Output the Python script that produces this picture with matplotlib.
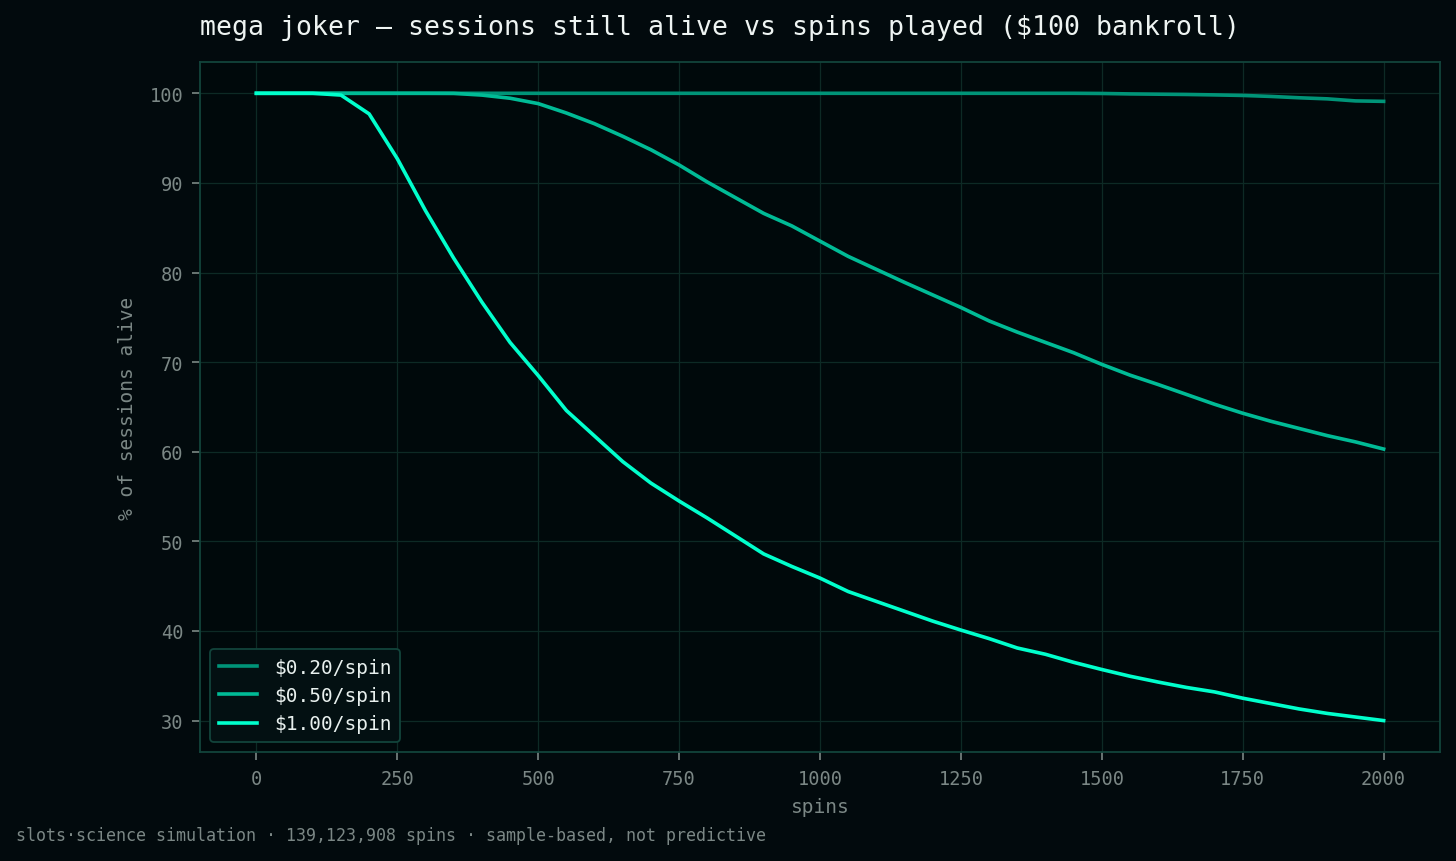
import matplotlib
matplotlib.use("Agg")
import matplotlib.pyplot as plt

spins = list(range(0, 2001, 50))

alive_020 = [100] * 30 + [99.98, 99.93, 99.9, 99.87, 99.82, 99.76, 99.65, 99.5, 99.38, 99.15, 99.1]

alive_050 = [100, 100, 100, 100, 100, 100, 100, 99.99, 99.8, 99.45, 98.85,
             97.8, 96.6, 95.2, 93.7, 92.0, 90.1, 88.35, 86.6, 85.2, 83.5,
             81.8, 80.35, 78.9, 77.5, 76.1, 74.6, 73.35, 72.2, 71.05, 69.75,
             68.55, 67.5, 66.4, 65.3, 64.3, 63.4, 62.6, 61.8, 61.1, 60.3]

alive_100 = [100, 100, 100, 99.8, 97.7, 92.7, 86.9, 81.6, 76.7, 72.2, 68.5,
             64.6, 61.75, 58.9, 56.5, 54.5, 52.6, 50.6, 48.6, 47.2, 45.9,
             44.4, 43.3, 42.2, 41.1, 40.1, 39.15, 38.1, 37.4, 36.5, 35.7,
             34.95, 34.3, 33.7, 33.2, 32.5, 31.9, 31.3, 30.8, 30.4, 30.0]

labels = ["$0.20/spin", "$0.50/spin", "$1.00/spin"]
colors = ["#009478", "#00bb96", "#00ffcc"]

BG = "#020a0d"
AX_BG = "#00090b"
GRID = "#0d2a25"
SPINE = "#12443b"
MUTED = "#7b8785"

plt.rcParams["font.family"] = ["DejaVu Sans Mono", "DejaVu Sans"]

fig = plt.figure(figsize=(14.56, 8.62), dpi=100, facecolor=BG)
ax = fig.add_axes([0.1374, 0.1265, 0.8516, 0.8005])
ax.set_facecolor(AX_BG)

for vals, lab, col in zip([alive_020, alive_050, alive_100], labels, colors):
    ax.plot(spins, vals, color=col, lw=2.6, label=lab)

ax.set_xticks([0, 250, 500, 750, 1000, 1250, 1500, 1750, 2000])
ax.set_yticks([30, 40, 50, 60, 70, 80, 90, 100])
ax.grid(True, color=GRID, lw=0.9)
ax.set_axisbelow(True)
for s in ax.spines.values():
    s.set_color(SPINE)
    s.set_linewidth(1.3)
ax.tick_params(colors=MUTED, labelsize=13.4, length=6, width=1.2, pad=6)

ax.set_xlabel("spins", color=MUTED, fontsize=14, labelpad=7)
ax.set_ylabel("% of sessions alive", color=MUTED, fontsize=14, labelpad=9)
ax.set_title("mega joker — sessions still alive vs spins played ($100 bankroll)",
             loc="left", color="#eef4f2", fontsize=19.1, pad=20)

leg = ax.legend(loc="lower left", fontsize=14, frameon=True, handlelength=2.0,
                borderpad=0.45, labelspacing=0.48, handletextpad=0.85, fancybox=True)
leg.get_frame().set_facecolor("#031012")
leg.get_frame().set_edgecolor(SPINE)
leg.get_frame().set_linewidth(1.3)
leg.get_frame().set_alpha(1)
for t in leg.get_texts():
    t.set_color("#e8f0ee")

fig.text(0.011, 0.030, "slots·science simulation · 139,123,908 spins · sample-based, not predictive",
         color=MUTED, fontsize=12, ha="left", va="center")

fig.savefig("out.png", dpi=100, facecolor=BG)
